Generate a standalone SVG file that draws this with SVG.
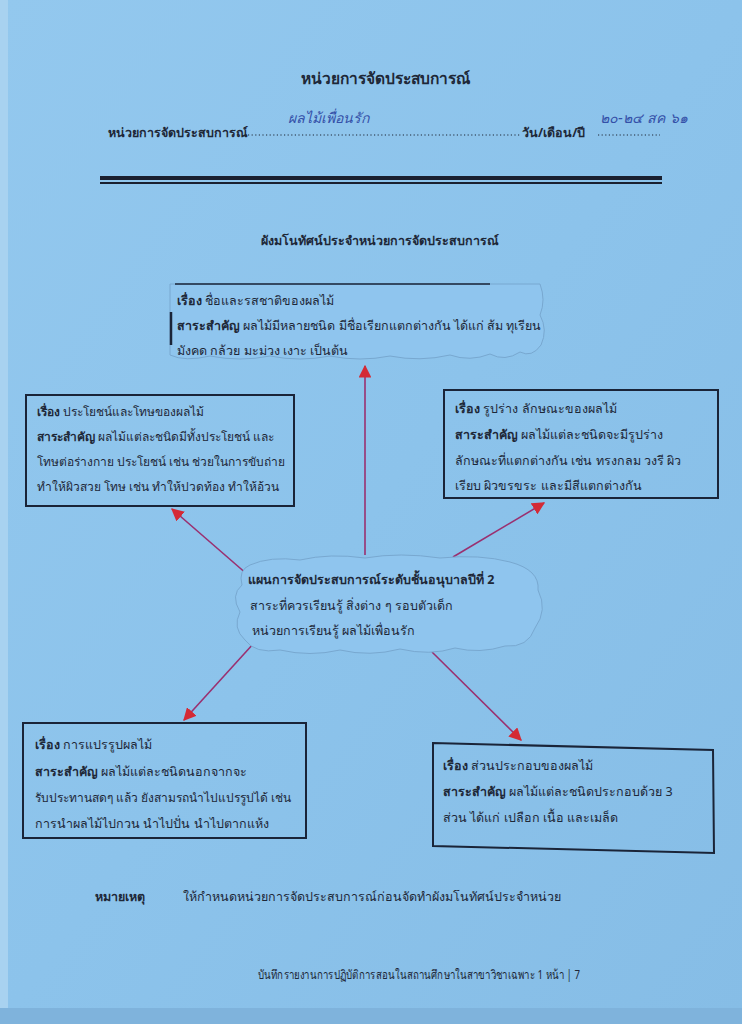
<svg xmlns="http://www.w3.org/2000/svg" width="742" height="1024" viewBox="0 0 742 1024">
<defs>
<linearGradient id="bg" x1="0" y1="0" x2="1" y2="1">
<stop offset="0" stop-color="#93c8ee"/>
<stop offset="0.5" stop-color="#8cc3eb"/>
<stop offset="1" stop-color="#86bde6"/>
</linearGradient>
<marker id="ah" viewBox="0 0 10 10" refX="9" refY="5" markerWidth="8" markerHeight="8" orient="auto" markerUnits="strokeWidth">
<path d="M0,0 L10,5 L0,10 z" fill="#d42a35"/>
</marker>
<style>
text{font-family:"Noto Sans","Liberation Sans","DejaVu Sans",sans-serif;fill:#1e2838;font-size:12.5px}
.b{font-weight:bold}
.t{font-size:15.5px;font-weight:bold}
.s{font-size:12px}
.box{fill:none;stroke:#1a2438;stroke-width:2}
.cl{fill:#8fc5ee;stroke:#78a8d0;stroke-width:1}
.ar{stroke:#9a3070;stroke-width:1.6;fill:none;marker-end:url(#ah)}
.hw{font-family:"DejaVu Serif",serif;font-style:italic;fill:#3450a8;font-size:14px}
.dot{stroke:#1e2838;stroke-width:1.2;stroke-dasharray:1.2 2.4}
</style>
</defs>
<rect width="742" height="1024" fill="url(#bg)"/>
<rect x="0" y="0" width="8" height="1024" fill="#a8d2f0"/>
<rect x="0" y="1008" width="742" height="16" fill="#7fb3dc"/>

<g id="header">
<text x="385" y="84" text-anchor="middle" class="t">หน่วยการจัดประสบการณ์</text>
<text x="108" y="137" class="b">หน่วยการจัดประสบการณ์</text>
<line x1="248" y1="135" x2="520" y2="135" class="dot"/>
<text x="522" y="137" class="b">วัน/เดือน/ปี</text>
<line x1="598" y1="135" x2="660" y2="135" class="dot"/>
<text x="288" y="123" class="hw">ผลไม้เพื่อนรัก</text>
<text x="600" y="123" class="hw" font-size="13">๒๐-๒๔ สค ๖๑</text>
<rect x="100" y="176" width="562" height="4" fill="#1a2030"/>
<rect x="100" y="182" width="562" height="2" fill="#1a2030"/>
<text x="380" y="245" text-anchor="middle" class="b">ผังมโนทัศน์ประจำหน่วยการจัดประสบการณ์</text>
</g>

<g id="connectors">
<line x1="365" y1="555" x2="365" y2="366" class="ar"/>
<line x1="248" y1="575" x2="172" y2="509" class="ar"/>
<line x1="453" y1="557" x2="544" y2="503" class="ar"/>
<line x1="254" y1="643" x2="184" y2="720" class="ar"/>
<line x1="432" y1="652" x2="521" y2="740" class="ar"/>
</g>

<g id="node-top">
<path d="M170,284 L540,284 Q546,300 540,315 Q548,330 541,345 Q532,358 520,352 Q505,362 490,354 Q470,362 450,355 Q420,362 390,356 Q360,362 330,356 Q300,362 270,356 Q240,362 210,356 Q185,362 170,355 Z" class="cl"/>
<line x1="175" y1="284" x2="490" y2="284" stroke="#1a2438" stroke-width="1.5"/>
<line x1="171" y1="312" x2="171" y2="345" stroke="#1a2438" stroke-width="2.5"/>
<text x="177" y="305"><tspan class="b">เรื่อง</tspan>  ชื่อและรสชาติของผลไม้</text>
<text x="177" y="330"><tspan class="b">สาระสำคัญ</tspan>  ผลไม้มีหลายชนิด มีชื่อเรียกแตกต่างกัน ได้แก่ ส้ม ทุเรียน</text>
<text x="177" y="355">มังคด กล้วย มะม่วง เงาะ เป็นต้น</text>
</g>

<g id="node-left">
<rect x="26" y="395" width="268" height="111" class="box"/>
<text x="37" y="416" class="s"><tspan class="b">เรื่อง</tspan>  ประโยชน์และโทษของผลไม้</text>
<text x="37" y="441" class="s"><tspan class="b">สาระสำคัญ</tspan> ผลไม้แต่ละชนิดมีทั้งประโยชน์ และ</text>
<text x="37" y="466" class="s">โทษต่อร่างกาย ประโยชน์ เช่น ช่วยในการขับถ่าย</text>
<text x="37" y="491" class="s">ทำให้ผิวสวย  โทษ เช่น ทำให้ปวดท้อง ทำให้อ้วน</text>
</g>

<g id="node-right">
<rect x="444" y="390" width="274" height="108" class="box"/>
<text x="455" y="413"><tspan class="b">เรื่อง</tspan> รูปร่าง ลักษณะของผลไม้</text>
<text x="455" y="439"><tspan class="b">สาระสำคัญ</tspan>  ผลไม้แต่ละชนิดจะมีรูปร่าง</text>
<text x="455" y="465">ลักษณะที่แตกต่างกัน เช่น ทรงกลม วงรี ผิว</text>
<text x="455" y="490">เรียบ ผิวขรขระ และมีสีแตกต่างกัน</text>
</g>

<g id="node-center">
<path d="M250,565 Q270,556 300,560 Q330,553 365,558 Q400,552 440,558 Q480,554 510,562 Q540,570 538,590 Q548,610 535,628 Q528,648 505,646 Q480,654 455,648 Q430,656 400,649 Q370,657 340,650 Q310,657 280,650 Q255,654 245,640 Q232,628 240,612 Q230,595 242,585 Q238,570 250,565 Z" class="cl"/>
<text x="248" y="584" class="b">แผนการจัดประสบการณ์ระดับชั้นอนุบาลปีที่ 2</text>
<text x="250" y="610">สาระที่ควรเรียนรู้  สิ่งต่าง ๆ รอบตัวเด็ก</text>
<text x="252" y="635">หน่วยการเรียนรู้  ผลไม้เพื่อนรัก</text>
</g>

<g id="node-bottom-left">
<rect x="23" y="723" width="283" height="115" class="box"/>
<text x="35" y="749"><tspan class="b">เรื่อง</tspan>  การแปรรูปผลไม้</text>
<text x="35" y="776"><tspan class="b">สาระสำคัญ</tspan> ผลไม้แต่ละชนิดนอกจากจะ</text>
<text x="35" y="802" class="s">รับประทานสดๆ แล้ว ยังสามรถนำไปแปรรูปได้ เช่น</text>
<text x="35" y="828">การนำผลไม้ไปกวน นำไปปั่น นำไปตากแห้ง</text>
</g>

<g id="node-bottom-right">
<path d="M433,743 L713,750 L714,853 L433,846 Z" class="box"/>
<text x="443" y="770"><tspan class="b">เรื่อง</tspan> ส่วนประกอบของผลไม้</text>
<text x="443" y="796"><tspan class="b">สาระสำคัญ</tspan>  ผลไม้แต่ละชนิดประกอบด้วย 3</text>
<text x="443" y="822">ส่วน ได้แก่ เปลือก เนื้อ และเมล็ด</text>
</g>

<g id="footer">
<text x="95" y="901" class="b">หมายเหตุ</text>
<text x="183" y="901">ให้กำหนดหน่วยการจัดประสบการณ์ก่อนจัดทำผังมโนทัศน์ประจำหน่วย</text>
<text x="258" y="979" font-size="11" textLength="322" lengthAdjust="spacingAndGlyphs">บันทึกรายงานการปฏิบัติการสอนในสถานศึกษาในสาขาวิชาเฉพาะ 1   หน้า |   7</text>
</g>
</svg>
